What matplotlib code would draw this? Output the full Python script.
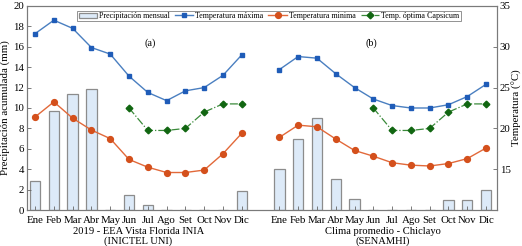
import matplotlib
matplotlib.use("Agg")
import matplotlib.pyplot as plt
import numpy as np

months = ["Ene", "Feb", "Mar", "Abr", "May", "Jun", "Jul", "Ago", "Set", "Oct", "Nov", "Dic"]

# Panel (a): 2019 - EEA Vista Florida INIA
precip_a = [2.8, 9.7, 11.4, 11.9, 0.0, 1.5, 0.5, 0.0, 0.0, 0.05, 0.0, 1.9]
tmax_a = [31.6, 33.25, 32.25, 29.9, 29.1, 26.4, 24.4, 23.4, 24.6, 25.0, 26.5, 29.0]
tmin_a = [21.4, 23.25, 21.25, 19.8, 18.75, 16.2, 15.25, 14.6, 14.6, 14.9, 16.9, 19.4]

# Panel (b): Clima promedio - Chiclayo
precip_b = [4.0, 7.0, 9.05, 3.0, 1.05, 0.0, 0.0, 0.0, 0.0, 1.0, 1.0, 2.0]
tmax_b = [27.2, 28.8, 28.6, 26.7, 25.0, 23.6, 22.8, 22.5, 22.5, 22.9, 23.9, 25.4]
tmin_b = [18.9, 20.4, 20.2, 18.7, 17.3, 16.6, 15.8, 15.5, 15.4, 15.7, 16.3, 17.6]

# Optimal temperature for Capsicum (Jun-Dic)
cap_months = ["Jun", "Jul", "Ago", "Set", "Oct", "Nov", "Dic"]
tcap = [22.5, 19.75, 19.75, 20.0, 22.0, 23.0, 23.0]

xlabel_a = ["2019 - EEA Vista Florida INIA", "(INICTEL UNI)"]
xlabel_b = ["Clima promedio - Chiclayo", "(SENAMHI)"]

plt.rcParams['font.family'] = ['Liberation Serif', 'DejaVu Serif']

fig = plt.figure(figsize=(5.22, 2.46), dpi=100)
ax = fig.add_axes([0.0517, 0.146, 0.9003, 0.830])
ax2 = ax.twinx()

xa = np.arange(12)
xb = np.arange(12) + 13
xcap_a = np.array([months.index(m) for m in cap_months])
xcap_b = xcap_a + 13

bar_fc = "#ddeaf8"
bar_ec = "#8c8c8c"
ax.bar(xa, precip_a, width=0.55, color=bar_fc, edgecolor=bar_ec, linewidth=0.9,
       label="Precipitación mensual")
ax.bar(xb, precip_b, width=0.55, color=bar_fc, edgecolor=bar_ec, linewidth=0.9)

cmax = "#4a7fc0"
cmin = "#e2693a"
ccap = "#3a8a3a"
ms = 3.4
for x, tmx, tmn in [(xa, tmax_a, tmin_a), (xb, tmax_b, tmin_b)]:
    ax2.plot(x, tmx, color=cmax, lw=1.0, marker="s", ms=ms, mfc="#1f5cb8", mec="#1f5cb8",
             label="Temperatura máxima" if x[0] == 0 else None)
    ax2.plot(x, tmn, color=cmin, lw=1.0, marker="o", ms=ms + 0.8, mfc="#d4501c", mec="#d4501c",
             label="Temperatura minima" if x[0] == 0 else None)
for x in (xcap_a, xcap_b):
    ax2.plot(x, tcap, color=ccap, lw=0.9, ls="-.", marker="D", ms=ms, mfc="#116611", mec="#116611",
             label="Temp. óptima Capsicum" if x[0] == 5 else None)

ax.set_xlim(-0.43, 24.58)
ax.set_ylim(0, 20)
ax.set_yticks(np.arange(0, 21, 2))
ax2.set_ylim(10, 35)
ax2.set_yticks([15, 20, 25, 30, 35])

ax.set_xticks(list(xa) + list(xb))
ax.set_xticklabels(months + months)

fs = 7.8
ax.tick_params(axis="both", direction="in", labelsize=fs, length=3, width=0.6, color="#666666", pad=2)
ax.tick_params(axis="x", pad=4)
ax2.tick_params(axis="y", direction="in", labelsize=fs, length=3, width=0.6, color="#666666", pad=2)
for a in (ax, ax2):
    for s in a.spines.values():
        s.set_color("#7a7a7a")
        s.set_linewidth(0.8)

ax.set_ylabel("Precipitación acumulada (mm)", fontsize=fs, labelpad=2)
ax2.set_ylabel("Temperatura (°C)", fontsize=fs, labelpad=1)

xt = ax.get_xaxis_transform()
for xc, lines in [(5.5, xlabel_a), (18.5, xlabel_b)]:
    ax.text(xc, -0.107, lines[0], transform=xt, ha="center", va="center", fontsize=7.6)
    ax.text(xc, -0.152, lines[1], transform=xt, ha="center", va="center", fontsize=7.6)

ax2.text(6.1, 0.815, "(a)", transform=ax2.get_xaxis_transform(), ha="center", va="center", fontsize=fs - 0.5)
ax2.text(17.9, 0.815, "(b)", transform=ax2.get_xaxis_transform(), ha="center", va="center", fontsize=fs - 0.5)

h1, l1 = ax.get_legend_handles_labels()
h2, l2 = ax2.get_legend_handles_labels()
leg = ax2.legend(h1 + h2, l1 + l2, loc="upper center", bbox_to_anchor=(0.515, 0.975), ncol=4,
                 fontsize=5.8, frameon=True, fancybox=False, edgecolor="#777777",
                 borderpad=0.15, handlelength=2.3, handletextpad=0.25, columnspacing=0.6,
                 borderaxespad=0.0)
leg.get_frame().set_linewidth(0.7)

fig.savefig("out.png", dpi=100)
